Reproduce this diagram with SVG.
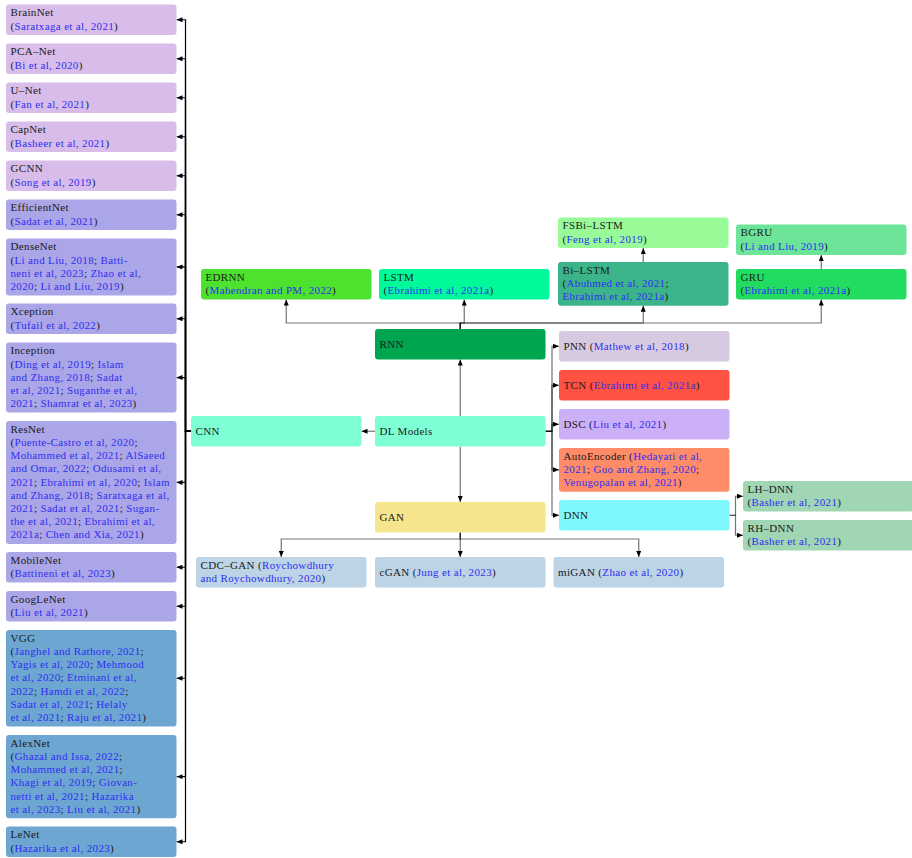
<svg xmlns="http://www.w3.org/2000/svg" width="912" height="858" viewBox="0 0 912 858">
  <defs>
    <marker id="arr" viewBox="0 0 6 5" refX="6" refY="2.5" markerWidth="6" markerHeight="5" markerUnits="userSpaceOnUse" orient="auto">
      <path d="M0,0 L6,2.5 L0,5 z" fill="#000"/>
    </marker>
    <style>
      text { font-family: 'Liberation Serif', 'DejaVu Serif', 'Times New Roman', serif; font-size: 11px; letter-spacing: 0.35px; fill: #1a1a1a; }
      tspan.c { fill: #2f2ff0; }
      rect { stroke: none; }
      .e { fill: none; stroke: #000; stroke-opacity: 0.55; stroke-width: 1.2; marker-end: url(#arr); }
      .ek { fill: none; stroke: #000; stroke-width: 1.2; marker-end: url(#arr); }
      .pu { fill: #d8bdea; }
      .lv { fill: #aba6e8; }
      .sb { fill: #6ea6d2; }
      .aq { fill: #7fffd4; }
      .gb { fill: #bcd4e6; }
    </style>
  </defs>

  <rect width="912" height="858" fill="#ffffff"/>

  <!-- connectors -->
  <g id="connectors">
    <!-- CNN family -->
    <path class="ek" d="M191,431.25 H185.5 V19.75 H176.5"/>
    <path class="ek" d="M191,431.25 H185.5 V58.75 H176.5"/>
    <path class="ek" d="M191,431.25 H185.5 V97.75 H176.5"/>
    <path class="ek" d="M191,431.25 H185.5 V136.75 H176.5"/>
    <path class="ek" d="M191,431.25 H185.5 V175.75 H176.5"/>
    <path class="ek" d="M191,431.25 H185.5 V214.75 H176.5"/>
    <path class="ek" d="M191,431.25 H185.5 V266.95 H176.5"/>
    <path class="ek" d="M191,431.25 H185.5 V318.75 H176.5"/>
    <path class="ek" d="M191,431.25 H185.5 V377.55 H176.5"/>
    <path class="ek" d="M191,431.25 H185.5 V482.45 H176.5"/>
    <path class="ek" d="M191,431.25 H185.5 V567.25 H176.5"/>
    <path class="ek" d="M191,431.25 H185.5 V606.25 H176.5"/>
    <path class="ek" d="M191,431.25 H185.5 V678.25 H176.5"/>
    <path class="ek" d="M191,431.25 H185.5 V776.65 H176.5"/>
    <path class="ek" d="M191,431.25 H185.5 V841.75 H176.5"/>
    <!-- DL Models children -->
    <path class="e" d="M375,431.25 H361.5"/>
    <path class="e" d="M460.25,416 V359.5"/>
    <path class="e" d="M460.25,446.5 V502"/>
    <path class="e" d="M545.5,431.25 H552 V346.25 H559"/>
    <path class="e" d="M545.5,431.25 H552 V385.25 H559"/>
    <path class="e" d="M545.5,431.25 H552 V424.25 H559"/>
    <path class="e" d="M545.5,431.25 H552 V469.85 H559"/>
    <path class="e" d="M545.5,431.25 H552 V515.25 H559"/>
    <!-- RNN family -->
    <path class="e" d="M460.25,329 V323 H286.25 V299.5"/>
    <path class="e" d="M460.25,329 V323 H464.25 V299.5"/>
    <path class="e" d="M460.25,329 V323 H643.25 V305.7"/>
    <path class="e" d="M460.25,329 V323 H821.25 V299.5"/>
    <path class="e" d="M643.25,262 V248"/>
    <path class="e" d="M821.25,269 V255"/>
    <!-- GAN family -->
    <path class="e" d="M460.25,532.5 V539 H281.25 V557"/>
    <path class="e" d="M460.25,532.5 V557"/>
    <path class="e" d="M460.25,532.5 V539 H638.75 V557"/>
    <!-- DNN family -->
    <path class="e" d="M729.5,515.25 H735.5 V496.25 H743"/>
    <path class="e" d="M729.5,515.25 H735.5 V535.25 H743"/>
  </g>

  <!-- CNN architectures -->
  <g id="n-brainnet">
    <rect class="pu" x="6" y="4.5" width="170.5" height="30.5" rx="3"/>
    <text x="10.5" y="16.3">BrainNet</text>
    <text x="10.5" y="29.5">(<tspan class="c">Saratxaga et al, 2021</tspan>)</text>
  </g>
  <g id="n-pcanet">
    <rect class="pu" x="6" y="43.5" width="170.5" height="30.5" rx="3"/>
    <text x="10.5" y="55.3">PCA–Net</text>
    <text x="10.5" y="68.5">(<tspan class="c">Bi et al, 2020</tspan>)</text>
  </g>
  <g id="n-unet">
    <rect class="pu" x="6" y="82.5" width="170.5" height="30.5" rx="3"/>
    <text x="10.5" y="94.3">U–Net</text>
    <text x="10.5" y="107.5">(<tspan class="c">Fan et al, 2021</tspan>)</text>
  </g>
  <g id="n-capnet">
    <rect class="pu" x="6" y="121.5" width="170.5" height="30.5" rx="3"/>
    <text x="10.5" y="133.3">CapNet</text>
    <text x="10.5" y="146.5">(<tspan class="c">Basheer et al, 2021</tspan>)</text>
  </g>
  <g id="n-gcnn">
    <rect class="pu" x="6" y="160.5" width="170.5" height="30.5" rx="3"/>
    <text x="10.5" y="172.3">GCNN</text>
    <text x="10.5" y="185.5">(<tspan class="c">Song et al, 2019</tspan>)</text>
  </g>
  <g id="n-efficientnet">
    <rect class="lv" x="6" y="199.5" width="170.5" height="30.5" rx="3"/>
    <text x="10.5" y="211.3">EfficientNet</text>
    <text x="10.5" y="224.5">(<tspan class="c">Sadat et al, 2021</tspan>)</text>
  </g>
  <g id="n-densenet">
    <rect class="lv" x="6" y="238.5" width="170.5" height="56.9" rx="3"/>
    <text x="10.5" y="250.3">DenseNet</text>
    <text x="10.5" y="263.5">(<tspan class="c">Li and Liu, 2018</tspan>; <tspan class="c">Batti-</tspan></text>
    <text x="10.5" y="276.7"><tspan class="c">neni et al, 2023</tspan>; <tspan class="c">Zhao et al,</tspan></text>
    <text x="10.5" y="289.9"><tspan class="c">2020</tspan>; <tspan class="c">Li and Liu, 2019</tspan>)</text>
  </g>
  <g id="n-xception">
    <rect class="lv" x="6" y="303.5" width="170.5" height="30.5" rx="3"/>
    <text x="10.5" y="315.3">Xception</text>
    <text x="10.5" y="328.5">(<tspan class="c">Tufail et al, 2022</tspan>)</text>
  </g>
  <g id="n-inception">
    <rect class="lv" x="6" y="342.5" width="170.5" height="70.1" rx="3"/>
    <text x="10.5" y="354.3">Inception</text>
    <text x="10.5" y="367.5">(<tspan class="c">Ding et al, 2019</tspan>; <tspan class="c">Islam</tspan></text>
    <text x="10.5" y="380.7"><tspan class="c">and Zhang, 2018</tspan>; <tspan class="c">Sadat</tspan></text>
    <text x="10.5" y="393.9"><tspan class="c">et al, 2021</tspan>; <tspan class="c">Suganthe et al,</tspan></text>
    <text x="10.5" y="407.1"><tspan class="c">2021</tspan>; <tspan class="c">Shamrat et al, 2023</tspan>)</text>
  </g>
  <g id="n-resnet">
    <rect class="lv" x="6" y="421" width="170.5" height="122.9" rx="3"/>
    <text x="10.5" y="432.8">ResNet</text>
    <text x="10.5" y="446">(<tspan class="c">Puente-Castro et al, 2020</tspan>;</text>
    <text x="10.5" y="459.2"><tspan class="c">Mohammed et al, 2021</tspan>; <tspan class="c">AlSaeed</tspan></text>
    <text x="10.5" y="472.4"><tspan class="c">and Omar, 2022</tspan>; <tspan class="c">Odusami et al,</tspan></text>
    <text x="10.5" y="485.6"><tspan class="c">2021</tspan>; <tspan class="c">Ebrahimi et al, 2020</tspan>; <tspan class="c">Islam</tspan></text>
    <text x="10.5" y="498.8"><tspan class="c">and Zhang, 2018</tspan>; <tspan class="c">Saratxaga et al,</tspan></text>
    <text x="10.5" y="512"><tspan class="c">2021</tspan>; <tspan class="c">Sadat et al, 2021</tspan>; <tspan class="c">Sugan-</tspan></text>
    <text x="10.5" y="525.2"><tspan class="c">the et al, 2021</tspan>; <tspan class="c">Ebrahimi et al,</tspan></text>
    <text x="10.5" y="538.4"><tspan class="c">2021a</tspan>; <tspan class="c">Chen and Xia, 2021</tspan>)</text>
  </g>
  <g id="n-mobilenet">
    <rect class="lv" x="6" y="552" width="170.5" height="30.5" rx="3"/>
    <text x="10.5" y="563.8">MobileNet</text>
    <text x="10.5" y="577">(<tspan class="c">Battineni et al, 2023</tspan>)</text>
  </g>
  <g id="n-googlenet">
    <rect class="lv" x="6" y="591" width="170.5" height="30.5" rx="3"/>
    <text x="10.5" y="602.8">GoogLeNet</text>
    <text x="10.5" y="616">(<tspan class="c">Liu et al, 2021</tspan>)</text>
  </g>
  <g id="n-vgg">
    <rect class="sb" x="6" y="630" width="170.5" height="96.5" rx="3"/>
    <text x="10.5" y="641.8">VGG</text>
    <text x="10.5" y="655">(<tspan class="c">Janghel and Rathore, 2021</tspan>;</text>
    <text x="10.5" y="668.2"><tspan class="c">Yagis et al, 2020</tspan>; <tspan class="c">Mehmood</tspan></text>
    <text x="10.5" y="681.4"><tspan class="c">et al, 2020</tspan>; <tspan class="c">Etminani et al,</tspan></text>
    <text x="10.5" y="694.6"><tspan class="c">2022</tspan>; <tspan class="c">Hamdi et al, 2022</tspan>;</text>
    <text x="10.5" y="707.8"><tspan class="c">Sadat et al, 2021</tspan>; <tspan class="c">Helaly</tspan></text>
    <text x="10.5" y="721"><tspan class="c">et al, 2021</tspan>; <tspan class="c">Raju et al, 2021</tspan>)</text>
  </g>
  <g id="n-alexnet">
    <rect class="sb" x="6" y="735" width="170.5" height="83.3" rx="3"/>
    <text x="10.5" y="746.8">AlexNet</text>
    <text x="10.5" y="760">(<tspan class="c">Ghazal and Issa, 2022</tspan>;</text>
    <text x="10.5" y="773.2"><tspan class="c">Mohammed et al, 2021</tspan>;</text>
    <text x="10.5" y="786.4"><tspan class="c">Khagi et al, 2019</tspan>; <tspan class="c">Giovan-</tspan></text>
    <text x="10.5" y="799.6"><tspan class="c">netti et al, 2021</tspan>; <tspan class="c">Hazarika</tspan></text>
    <text x="10.5" y="812.8"><tspan class="c">et al, 2023</tspan>; <tspan class="c">Liu et al, 2021</tspan>)</text>
  </g>
  <g id="n-lenet">
    <rect class="sb" x="6" y="826.5" width="170.5" height="30.5" rx="3"/>
    <text x="10.5" y="838.3">LeNet</text>
    <text x="10.5" y="851.5">(<tspan class="c">Hazarika et al, 2023</tspan>)</text>
  </g>

  <!-- central column -->
  <g id="n-cnn">
    <rect class="aq" x="191" y="416" width="170.5" height="30.5" rx="3"/>
    <text x="195.5" y="435">CNN</text>
  </g>
  <g id="n-dlmodels">
    <rect class="aq" x="375" y="416" width="170.5" height="30.5" rx="3"/>
    <text x="379.5" y="435">DL Models</text>
  </g>
  <g id="n-rnn">
    <rect fill="#00a550" x="375" y="329" width="170.5" height="30.5" rx="3"/>
    <text x="379.5" y="348">RNN</text>
  </g>
  <g id="n-gan">
    <rect fill="#f5e68e" x="375" y="502" width="170.5" height="30.5" rx="3"/>
    <text x="379.5" y="521">GAN</text>
  </g>

  <!-- RNN variants -->
  <g id="n-edrnn">
    <rect fill="#4de22e" x="201" y="269" width="170.5" height="30.5" rx="3"/>
    <text x="205.5" y="280.8">EDRNN</text>
    <text x="205.5" y="294">(<tspan class="c">Mahendran and PM, 2022</tspan>)</text>
  </g>
  <g id="n-lstm">
    <rect fill="#00fa9a" x="379" y="269" width="170.5" height="30.5" rx="3"/>
    <text x="383.5" y="280.8">LSTM</text>
    <text x="383.5" y="294">(<tspan class="c">Ebrahimi et al, 2021a</tspan>)</text>
  </g>
  <g id="n-fsbilstm">
    <rect fill="#98fb98" x="558" y="217.5" width="170.5" height="30.5" rx="3"/>
    <text x="562.5" y="229.3">FSBi–LSTM</text>
    <text x="562.5" y="242.5">(<tspan class="c">Feng et al, 2019</tspan>)</text>
  </g>
  <g id="n-bilstm">
    <rect fill="#3cb48a" x="558" y="262" width="170.5" height="43.7" rx="3"/>
    <text x="562.5" y="273.8">Bi–LSTM</text>
    <text x="562.5" y="287">(<tspan class="c">Abuhmed et al, 2021</tspan>;</text>
    <text x="562.5" y="300.2"><tspan class="c">Ebrahimi et al, 2021a</tspan>)</text>
  </g>
  <g id="n-bgru">
    <rect fill="#6ce598" x="736" y="224.5" width="170.5" height="30.5" rx="3"/>
    <text x="740.5" y="236.3">BGRU</text>
    <text x="740.5" y="249.5">(<tspan class="c">Li and Liu, 2019</tspan>)</text>
  </g>
  <g id="n-gru">
    <rect fill="#22dc62" x="736" y="269" width="170.5" height="30.5" rx="3"/>
    <text x="740.5" y="280.8">GRU</text>
    <text x="740.5" y="294">(<tspan class="c">Ebrahimi et al, 2021a</tspan>)</text>
  </g>

  <!-- other model families -->
  <g id="n-pnn">
    <rect fill="#d7cae0" x="559" y="331" width="170.5" height="30.5" rx="3"/>
    <text x="563.5" y="349.8">PNN (<tspan class="c">Mathew et al, 2018</tspan>)</text>
  </g>
  <g id="n-tcn">
    <rect fill="#ff5242" x="559" y="370" width="170.5" height="30.5" rx="3"/>
    <text x="563.5" y="388.8">TCN (<tspan class="c">Ebrahimi et al, 2021a</tspan>)</text>
  </g>
  <g id="n-dsc">
    <rect fill="#cbaff7" x="559" y="409" width="170.5" height="30.5" rx="3"/>
    <text x="563.5" y="427.8">DSC (<tspan class="c">Liu et al, 2021</tspan>)</text>
  </g>
  <g id="n-autoencoder">
    <rect fill="#ff8c69" x="559" y="448" width="170.5" height="43.7" rx="3"/>
    <text x="563.5" y="459.8">AutoEncoder (<tspan class="c">Hedayati et al,</tspan></text>
    <text x="563.5" y="473"><tspan class="c">2021</tspan>; <tspan class="c">Guo and Zhang, 2020</tspan>;</text>
    <text x="563.5" y="486.2"><tspan class="c">Venugopalan et al, 2021</tspan>)</text>
  </g>
  <g id="n-dnn">
    <rect fill="#7ff8fd" x="559" y="500" width="170.5" height="30.5" rx="3"/>
    <text x="563.5" y="518.8">DNN</text>
  </g>
  <g id="n-lhdnn">
    <rect fill="#a0d6b4" x="743" y="481" width="170.5" height="30.5" rx="3"/>
    <text x="747.5" y="492.8">LH–DNN</text>
    <text x="747.5" y="506">(<tspan class="c">Basher et al, 2021</tspan>)</text>
  </g>
  <g id="n-rhdnn">
    <rect fill="#a0d6b4" x="743" y="520" width="170.5" height="30.5" rx="3"/>
    <text x="747.5" y="531.8">RH–DNN</text>
    <text x="747.5" y="545">(<tspan class="c">Basher et al, 2021</tspan>)</text>
  </g>

  <!-- GAN variants -->
  <g id="n-cdcgan">
    <rect class="gb" x="196" y="557" width="170.5" height="30.5" rx="3"/>
    <text x="200.5" y="568.8">CDC–GAN (<tspan class="c">Roychowdhury</tspan></text>
    <text x="200.5" y="582"><tspan class="c">and Roychowdhury, 2020</tspan>)</text>
  </g>
  <g id="n-cgan">
    <rect class="gb" x="375" y="557" width="170.5" height="30.5" rx="3"/>
    <text x="379.5" y="575.8">cGAN (<tspan class="c">Jung et al, 2023</tspan>)</text>
  </g>
  <g id="n-migan">
    <rect class="gb" x="553.5" y="557" width="170.5" height="30.5" rx="3"/>
    <text x="558" y="575.8">miGAN (<tspan class="c">Zhao et al, 2020</tspan>)</text>
  </g>
</svg>
